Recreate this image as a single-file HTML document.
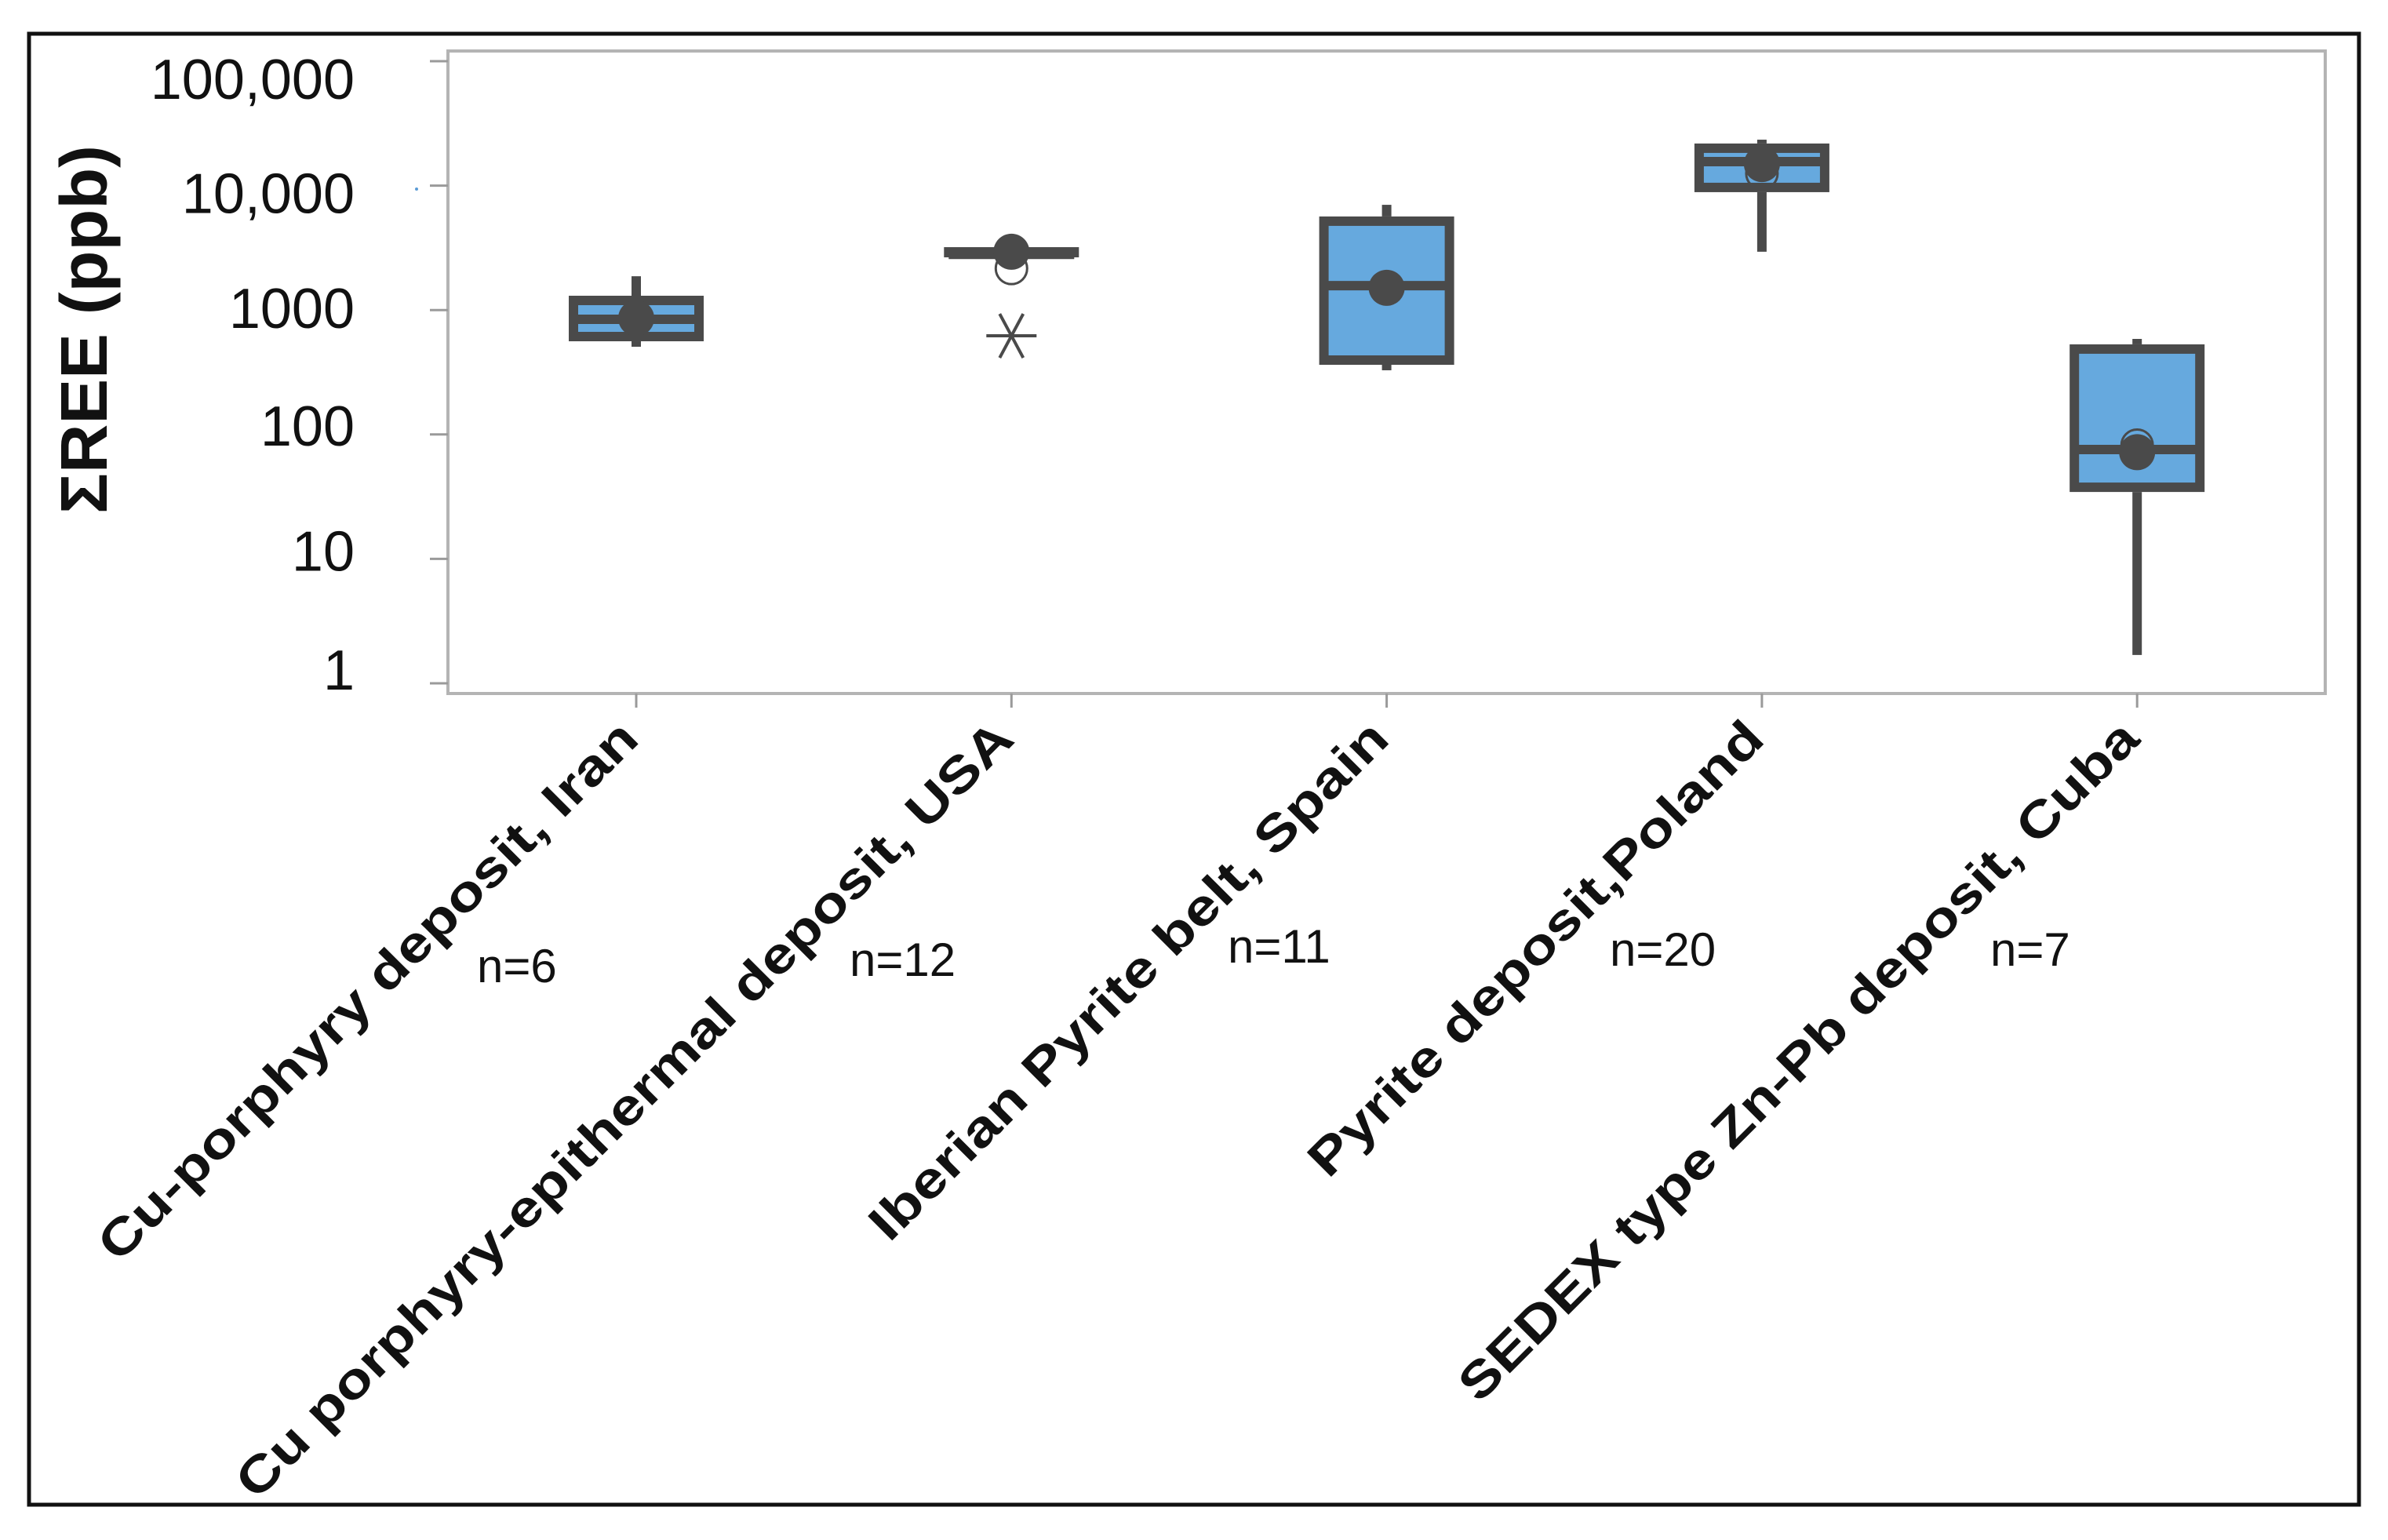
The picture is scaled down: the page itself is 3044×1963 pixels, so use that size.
<!DOCTYPE html>
<html><head><meta charset="utf-8"><style>
html,body{margin:0;padding:0;background:#fff;}
svg{display:block;font-family:"Liberation Sans",sans-serif;}
</style></head><body>
<svg id="chart" width="3044" height="1963" viewBox="0 0 3044 1963" xmlns="http://www.w3.org/2000/svg">
<rect x="37" y="43" width="2970" height="1875" fill="#fff" stroke="#111" stroke-width="5"/>
<rect x="571" y="65" width="2393" height="819" fill="#fff" stroke="#b4b4b4" stroke-width="4"/>
<text transform="translate(136,420) rotate(-90)" text-anchor="middle" font-size="84" font-weight="bold" textLength="470" lengthAdjust="spacingAndGlyphs" fill="#111">ΣREE (ppb)</text>
<circle cx="531" cy="241" r="2" fill="#5b9bd5"/>
<g id="axes"></g>
<g id="marks"></g>
</svg>
<script>
const categories = ["Cu-porphyry deposit, Iran","Cu porphyry-epithermal deposit, USA","Iberian Pyrite belt, Spain","Pyrite deposit,Poland","SEDEX type Zn-Pb deposit, Cuba"];
const nLabels = ["n=6","n=12","n=11","n=20","n=7"];
const whiskerLow = [507, 2690, 328, 2940, 1.69];
const q1 = [561, 2690, 363, 8860, 34.5];
const median = [843, 2800, 1570, 15600, 75.7];
const q3 = [1303, 2940, 5650, 21800, 530];
const whiskerHigh = [1870, 2940, 7010, 23400, 586];
const means = [860, 2940, 1510, 14900, 72];
const ciMarks = [null, 2160, null, 12530, 82];
const outliers = [null, 621, null, null, null];
const yTicks = [1, 10, 100, 1000, 10000, 100000];
const yTickLabels = ["1","10","100","1000","10,000","100,000"];
const labelLengths = [942, 1370, 905, 790, 1195];

const NS = "http://www.w3.org/2000/svg";
function y(v){ return 871 - 158.6*Math.log10(v); }
function x(i){ return 811 + i*478.3; }
function mk(tag, attrs, parent, txt){
  const e = document.createElementNS(NS, tag);
  for (const k in attrs) e.setAttribute(k, attrs[k]);
  if (txt !== undefined) e.textContent = txt;
  parent.appendChild(e);
  return e;
}
const axes = document.getElementById('axes');
const marks = document.getElementById('marks');
const grey = "#4a4a4a";
const yLabelShift = [-18, -11, -12, -3, 9, 22];
const nX = [608, 1083, 1565, 2052, 2537];
const nY = [1252, 1244, 1227, 1231, 1231];

yTicks.forEach((t, i) => {
  const tk = mk('line', {x1:548, x2:571, y1:y(t), y2:y(t), stroke:"#9a9a9a", "stroke-width":3}, axes);
  
  
  const lb = mk('text', {x:452, y:y(t)+26+yLabelShift[i], "text-anchor":"end", "font-size":72, fill:"#111"}, axes, yTickLabels[i]);
  
  
});

categories.forEach((c, i) => {
  const cx = x(i);
  const tk = mk('line', {x1:cx, x2:cx, y1:884, y2:902, stroke:"#9a9a9a", "stroke-width":3}, axes);
  
  
  const lb = mk('text', {transform:`translate(${cx+6},${945}) rotate(-45)`, "text-anchor":"end", "font-size":64, "font-weight":"bold", fill:"#111", textLength:labelLengths[i], lengthAdjust:"spacingAndGlyphs"}, axes, c);
  
  
  const nl = mk('text', {x:nX[i], y:nY[i], "font-size":60, fill:"#111"}, axes, nLabels[i]);
  
  

  const g = mk('g', {}, marks);
  
  
  const w1 = mk('line', {x1:cx, x2:cx, y1:y(whiskerHigh[i]), y2:y(q3[i]), stroke:grey, "stroke-width":12}, g);
  
  
  const w2 = mk('line', {x1:cx, x2:cx, y1:y(q1[i]), y2:y(whiskerLow[i]), stroke:grey, "stroke-width":12}, g);
  
  
  const top = y(q3[i]) + 6, bot = y(q1[i]) - 6;
  const bx = mk('rect', {x:cx-80, y:Math.min(top,bot), width:160, height:Math.max(1, bot-top), fill:"#66a9de", stroke:grey, "stroke-width":12}, g);
  
  
  const md = mk('line', {x1:cx-80, x2:cx+80, y1:y(median[i]), y2:y(median[i]), stroke:grey, "stroke-width":12}, g);
  
  
  if (ciMarks[i] !== null) {
    const ci = mk('circle', {cx:cx, cy:y(ciMarks[i]), r:20, fill:"none", stroke:grey, "stroke-width":3}, g);
    
    
  }
  const mn = mk('circle', {cx:cx, cy:y(means[i]), r:23, fill:grey}, g);
  
  
  if (outliers[i] !== null) {
    const oy = y(outliers[i]);
    const o = mk('path', {d:`M${cx-32},${oy}H${cx+32}M${cx-15},${oy-28}L${cx+15},${oy+28}M${cx+15},${oy-28}L${cx-15},${oy+28}`, stroke:grey, "stroke-width":4, fill:"none"}, g);
    
    
  }
});
</script>
</body></html>
